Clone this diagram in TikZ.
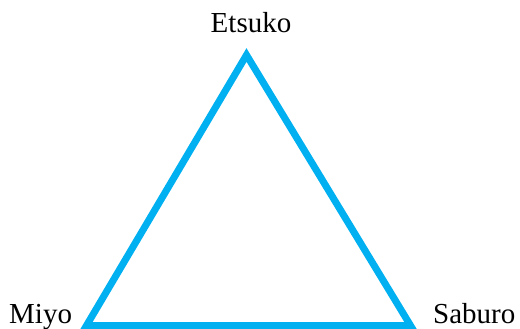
\documentclass[tikz,border=0pt]{standalone}
\usepackage{fontspec}
\setmainfont{Liberation Serif}
\usetikzlibrary{positioning}
\definecolor{edgecyan}{RGB}{0,176,240}

\begin{document}
\begin{tikzpicture}[
    x=1pt, y=-1pt,
    person/.style={font=\fontsize{29}{35}\selectfont, inner sep=0pt},
    tie/.style={draw=edgecyan, line width=7pt, line join=miter},
]
\useasboundingbox (0,0) rectangle (520,329);

% Corners of the triangle
\coordinate (e) at (246.5,55);
\coordinate (m) at (86.5,325.5);
\coordinate (s) at (410.5,325.5);

% Names
\node[person, anchor=base] (etsuko) at (251,33) {Etsuko};
\node[person, anchor=base west] (miyo) at (9,323) {Miyo};
\node[person, anchor=base west] (saburo) at (433,323) {Saburo};

% Triangle
\draw[tie] (e) -- (m) -- (s) -- cycle;

\end{tikzpicture}
\end{document}
